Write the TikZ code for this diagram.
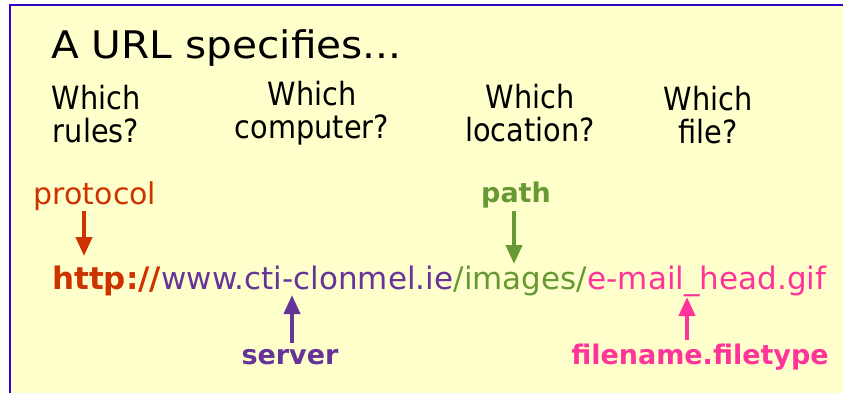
\documentclass[tikz,border=0pt]{standalone}
\usepackage{fontspec}
\setmainfont{DejaVu Sans}
\newfontfamily\condfont{DejaVu Sans Condensed}
\newfontfamily\widefont[FakeStretch=1.07]{DejaVu Sans}
\usetikzlibrary{arrows.meta}
\definecolor{bgyellow}{HTML}{FFFFCC}
\definecolor{framecol}{HTML}{3300CC}
\definecolor{protcol}{HTML}{CC3300}
\definecolor{servcol}{HTML}{663399}
\definecolor{pathcol}{HTML}{669933}
\definecolor{filecol}{HTML}{FF3399}
\tikzset{
  titletext/.style={font=\widefont\fontsize{38}{42}\selectfont, inner sep=0pt, anchor=base west},
  question/.style={font=\condfont\fontsize{32}{33}\selectfont, align=center, inner sep=0pt},
  urlpart/.style={font=\fontsize{31}{34}\selectfont, inner sep=0pt, anchor=base west},
  lbl/.style={font=\bfseries\fontsize{27}{30}\selectfont, inner sep=0pt},
  arr/.style={line width=4pt, -{Triangle[width=16pt,length=19pt]}}
}
\begin{document}
\begin{tikzpicture}[x=1pt,y=-1pt]
\useasboundingbox (0,0) rectangle (843,392);
\fill[white] (0,0) rectangle (843,392);
\filldraw[fill=bgyellow, draw=framecol, line width=2pt] (10,5) rectangle (860,410);
\node[titletext] (title) at (51,58) {A URL specifies...};
\node[question] (q1) at (96,114) {Which\\rules?};
\node[question] (q2) at (312,113) {Which\\computer?};
\node[question] (q3) at (530,113) {Which\\location?};
\node[question] (q4) at (708,115) {Which\\file?};
\node[urlpart, text=protcol, font=\bfseries\fontsize{31}{34}\selectfont] (u1) at (52,289) {http://};
\node[urlpart, text=servcol] (u2) at (u1.base east) {www.cti-clonmel.ie};
\node[urlpart, text=pathcol] (u3) at (u2.base east) {/images/};
\node[urlpart, text=filecol] (u4) at (u3.base east) {e-mail\_head.gif};
\node[lbl, text=protcol, font=\fontsize{30}{33}\selectfont] (lprot) at (95,196) {protocol};
\node[lbl, text=pathcol] (lpath) at (516,195) {path};
\node[lbl, text=servcol] (lserv) at (290,357) {server};
\node[lbl, text=filecol] (lfile) at (700,357) {filename.filetype};
\coordinate (p1) at (84,211); \coordinate (p2) at (84,256);
\coordinate (a1) at (514,211); \coordinate (a2) at (514,264);
\coordinate (s1) at (292,343); \coordinate (s2) at (292,295);
\coordinate (f1) at (687,340); \coordinate (f2) at (687,297);
\draw[arr, protcol] (p1) -- (p2);
\draw[arr, pathcol] (a1) -- (a2);
\draw[arr, servcol] (s1) -- (s2);
\draw[arr, filecol] (f1) -- (f2);
\end{tikzpicture}
\end{document}
